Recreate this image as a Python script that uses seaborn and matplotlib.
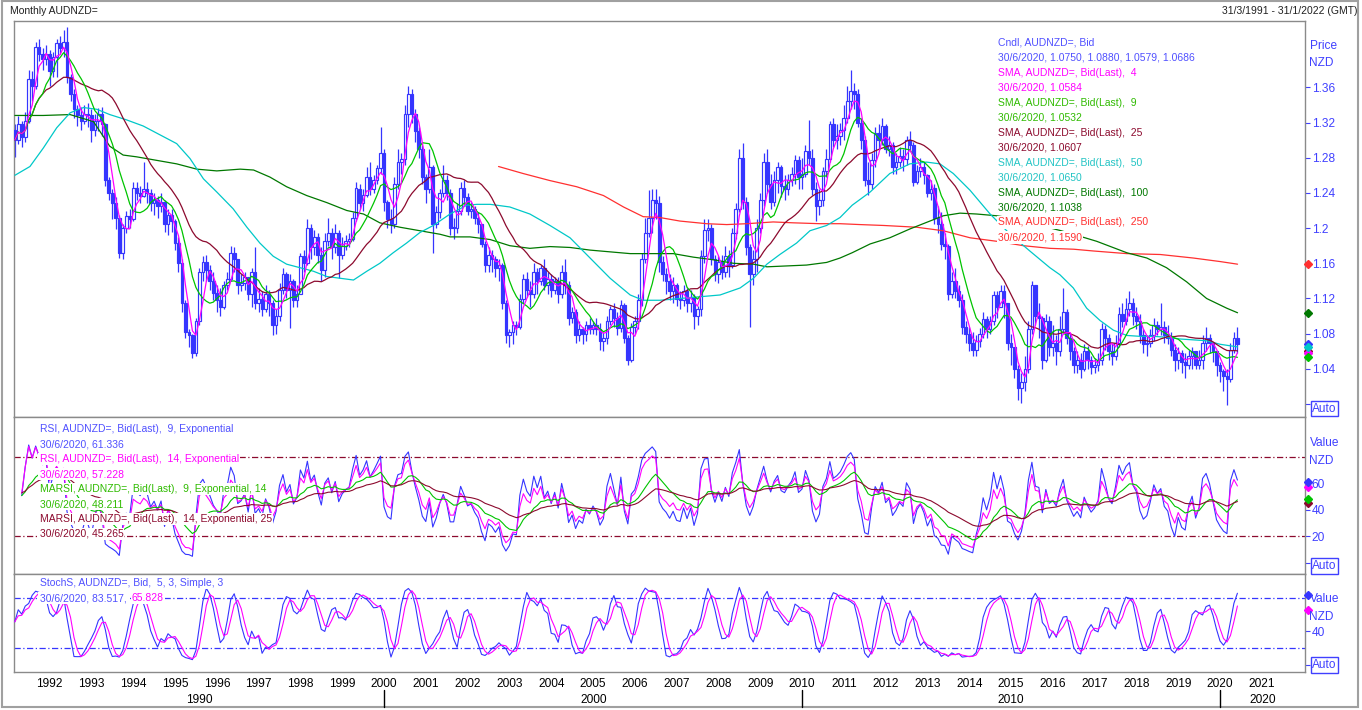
import pandas as pd
import matplotlib
matplotlib.use("Agg")
import matplotlib.pyplot as plt
from matplotlib.lines import Line2D
from matplotlib.patches import Rectangle
import seaborn as sns

sns.set_style("white")
plt.rcParams['font.family'] = ['Liberation Sans', 'DejaVu Sans']

W, H = 1362, 710

# ---------------- data (monthly, Mar 1991 - Jun 2020) ----------------
first_open = 1.312
closes = [
    1.300, 1.318, 1.304, 1.322, 1.370, 1.362, 1.406, 1.398, 1.392, 1.398,  # 1991 Mar-Dec
    1.378, 1.395, 1.410, 1.405, 1.412, 1.372, 1.352, 1.335, 1.328, 1.322, 1.330, 1.328,  # 1992
    1.312, 1.322, 1.330, 1.318, 1.255, 1.240, 1.228, 1.212, 1.172, 1.200, 1.214, 1.210,  # 1993
    1.246, 1.240, 1.236, 1.245, 1.240, 1.228, 1.232, 1.225, 1.230, 1.205, 1.215, 1.208,  # 1994
    1.183, 1.160, 1.115, 1.082, 1.078, 1.058, 1.095, 1.150, 1.162, 1.152, 1.140, 1.126,  # 1995
    1.118, 1.110, 1.135, 1.142, 1.172, 1.165, 1.135, 1.138, 1.145, 1.125, 1.150, 1.115,  # 1996
    1.120, 1.108, 1.125, 1.115, 1.090, 1.100, 1.130, 1.148, 1.130, 1.140, 1.118, 1.125,  # 1997
    1.168, 1.160, 1.200, 1.178, 1.190, 1.170, 1.152, 1.185, 1.195, 1.178, 1.195, 1.170,  # 1998
    1.180, 1.185, 1.188, 1.212, 1.245, 1.228, 1.238, 1.258, 1.245, 1.255, 1.268, 1.285,  # 1999
    1.230, 1.210, 1.205, 1.250, 1.275, 1.278, 1.330, 1.352, 1.330, 1.310, 1.290, 1.258,  # 2000
    1.245, 1.270, 1.205, 1.218, 1.240, 1.255, 1.240, 1.200, 1.200, 1.220, 1.246, 1.235,  # 2001
    1.220, 1.222, 1.212, 1.205, 1.182, 1.158, 1.170, 1.165, 1.155, 1.158, 1.115, 1.078,  # 2002
    1.082, 1.090, 1.088, 1.120, 1.142, 1.130, 1.125, 1.150, 1.140, 1.155, 1.135, 1.142,  # 2003
    1.130, 1.140, 1.125, 1.150, 1.135, 1.098, 1.105, 1.078, 1.085, 1.080, 1.090, 1.085,  # 2004
    1.090, 1.085, 1.072, 1.075, 1.095, 1.108, 1.098, 1.086, 1.113, 1.075, 1.050, 1.088,  # 2005
    1.095, 1.118, 1.165, 1.195, 1.212, 1.232, 1.228, 1.162, 1.148, 1.140, 1.128, 1.135,  # 2006
    1.120, 1.118, 1.128, 1.115, 1.122, 1.100, 1.108, 1.168, 1.198, 1.200, 1.165, 1.148,  # 2007
    1.162, 1.150, 1.168, 1.158, 1.195, 1.222, 1.280, 1.230, 1.178, 1.148, 1.165, 1.200,  # 2008
    1.232, 1.275, 1.250, 1.230, 1.255, 1.270, 1.248, 1.245, 1.255, 1.262, 1.277, 1.258,  # 2009
    1.262, 1.288, 1.280, 1.245, 1.225, 1.232, 1.265, 1.278, 1.318, 1.300, 1.305, 1.312,  # 2010
    1.325, 1.345, 1.356, 1.352, 1.320, 1.300, 1.255, 1.250, 1.277, 1.308, 1.300, 1.316,  # 2011
    1.290, 1.295, 1.270, 1.275, 1.282, 1.278, 1.300, 1.295, 1.252, 1.265, 1.270, 1.260,  # 2012
    1.240, 1.245, 1.212, 1.205, 1.182, 1.180, 1.125, 1.140, 1.128, 1.118, 1.088, 1.080,  # 2013
    1.070, 1.062, 1.072, 1.080, 1.097, 1.085, 1.095, 1.124, 1.110, 1.128, 1.115, 1.070,  # 2014
    1.065, 1.040, 1.018, 1.025, 1.040, 1.085, 1.135, 1.100, 1.098, 1.050, 1.095, 1.065,  # 2015
    1.070, 1.060, 1.085, 1.105, 1.075, 1.060, 1.045, 1.050, 1.040, 1.060, 1.050, 1.042,  # 2016
    1.045, 1.050, 1.085, 1.075, 1.060, 1.055, 1.070, 1.102, 1.095, 1.108, 1.115, 1.100,  # 2017
    1.095, 1.078, 1.068, 1.070, 1.078, 1.090, 1.085, 1.088, 1.078, 1.075, 1.062, 1.050,  # 2018
    1.058, 1.048, 1.045, 1.055, 1.060, 1.045, 1.050, 1.070, 1.075, 1.070, 1.060, 1.045,  # 2019
    1.038, 1.032, 1.029, 1.061, 1.075, 1.0686,  # 2020 Jan-Jun
]
highs = [
    1.318, 1.327, 1.322, 1.332, 1.380, 1.378, 1.412, 1.415, 1.405, 1.408,
    1.402, 1.400, 1.415, 1.418, 1.425, 1.428, 1.375, 1.358, 1.340, 1.338, 1.340, 1.342,
    1.335, 1.330, 1.336, 1.338, 1.320, 1.258, 1.245, 1.235, 1.215, 1.205, 1.220, 1.222,
    1.252, 1.252, 1.248, 1.275, 1.252, 1.245, 1.240, 1.236, 1.240, 1.232, 1.222, 1.222,
    1.210, 1.190, 1.165, 1.118, 1.085, 1.080, 1.098, 1.155, 1.168, 1.170, 1.158, 1.150,
    1.135, 1.132, 1.140, 1.150, 1.180, 1.178, 1.160, 1.148, 1.150, 1.142, 1.155, 1.178,
    1.132, 1.128, 1.135, 1.130, 1.118, 1.108, 1.138, 1.155, 1.150, 1.148, 1.142, 1.135,
    1.172, 1.175, 1.210, 1.205, 1.198, 1.195, 1.178, 1.195, 1.212, 1.200, 1.205, 1.198,
    1.190, 1.192, 1.195, 1.218, 1.252, 1.250, 1.245, 1.270, 1.275, 1.260, 1.272, 1.315,
    1.290, 1.232, 1.222, 1.258, 1.290, 1.285, 1.340, 1.362, 1.358, 1.335, 1.315, 1.295,
    1.262, 1.290, 1.272, 1.225, 1.245, 1.272, 1.260, 1.245, 1.212, 1.228, 1.252, 1.255,
    1.240, 1.230, 1.225, 1.218, 1.205, 1.185, 1.178, 1.175, 1.168, 1.165, 1.160, 1.118,
    1.085, 1.095, 1.095, 1.125, 1.148, 1.150, 1.140, 1.160, 1.155, 1.158, 1.165, 1.150,
    1.148, 1.145, 1.145, 1.158, 1.165, 1.140, 1.110, 1.108, 1.095, 1.088, 1.095, 1.098,
    1.095, 1.098, 1.092, 1.082, 1.100, 1.112, 1.115, 1.105, 1.118, 1.115, 1.078, 1.092,
    1.100, 1.125, 1.172, 1.212, 1.243, 1.245, 1.244, 1.236, 1.168, 1.155, 1.148, 1.145,
    1.138, 1.128, 1.135, 1.132, 1.130, 1.125, 1.112, 1.175, 1.210, 1.210, 1.205, 1.170,
    1.168, 1.170, 1.180, 1.175, 1.200, 1.228, 1.290, 1.297, 1.235, 1.182, 1.175, 1.210,
    1.240, 1.285, 1.290, 1.262, 1.265, 1.275, 1.272, 1.260, 1.262, 1.270, 1.283, 1.282,
    1.280, 1.295, 1.323, 1.290, 1.252, 1.245, 1.270, 1.290, 1.322, 1.325, 1.318, 1.320,
    1.340, 1.362, 1.380, 1.365, 1.358, 1.325, 1.305, 1.275, 1.285, 1.315, 1.318, 1.325,
    1.318, 1.305, 1.298, 1.285, 1.292, 1.290, 1.305, 1.310, 1.298, 1.272, 1.280, 1.275,
    1.262, 1.255, 1.250, 1.225, 1.218, 1.195, 1.182, 1.150, 1.155, 1.135, 1.125, 1.095,
    1.088, 1.082, 1.078, 1.086, 1.105, 1.100, 1.100, 1.128, 1.128, 1.135, 1.135, 1.102,
    1.080, 1.060, 1.045, 1.035, 1.055, 1.095, 1.140, 1.135, 1.115, 1.100, 1.102, 1.100,
    1.090, 1.078, 1.100, 1.132, 1.108, 1.080, 1.065, 1.060, 1.058, 1.068, 1.066, 1.055,
    1.052, 1.058, 1.092, 1.090, 1.080, 1.070, 1.078, 1.110, 1.115, 1.120, 1.128, 1.120,
    1.110, 1.102, 1.085, 1.078, 1.085, 1.098, 1.095, 1.115, 1.095, 1.090, 1.082, 1.068,
    1.065, 1.062, 1.058, 1.062, 1.065, 1.060, 1.062, 1.078, 1.088, 1.080, 1.070, 1.058,
    1.048, 1.040, 1.040, 1.070, 1.082, 1.088,
]
lows = [
    1.281, 1.296, 1.292, 1.298, 1.320, 1.345, 1.358, 1.390, 1.380, 1.385,
    1.362, 1.372, 1.372, 1.398, 1.395, 1.365, 1.345, 1.325, 1.316, 1.312, 1.318, 1.315,
    1.298, 1.305, 1.310, 1.305, 1.248, 1.232, 1.210, 1.199, 1.166, 1.165, 1.195, 1.200,
    1.208, 1.232, 1.228, 1.235, 1.228, 1.220, 1.215, 1.212, 1.218, 1.196, 1.192, 1.196,
    1.175, 1.150, 1.105, 1.075, 1.065, 1.052, 1.055, 1.090, 1.140, 1.140, 1.130, 1.118,
    1.105, 1.100, 1.108, 1.130, 1.140, 1.150, 1.125, 1.128, 1.130, 1.118, 1.110, 1.108,
    1.105, 1.100, 1.105, 1.100, 1.078, 1.080, 1.095, 1.125, 1.120, 1.086, 1.110, 1.110,
    1.125, 1.150, 1.158, 1.165, 1.170, 1.160, 1.140, 1.145, 1.180, 1.165, 1.172, 1.143,
    1.165, 1.175, 1.178, 1.185, 1.208, 1.222, 1.220, 1.235, 1.238, 1.240, 1.250, 1.262,
    1.220, 1.200, 1.195, 1.200, 1.245, 1.262, 1.272, 1.315, 1.320, 1.298, 1.280, 1.250,
    1.228, 1.240, 1.172, 1.200, 1.212, 1.235, 1.232, 1.192, 1.188, 1.195, 1.215, 1.225,
    1.215, 1.212, 1.205, 1.195, 1.178, 1.150, 1.150, 1.150, 1.145, 1.140, 1.108, 1.070,
    1.065, 1.068, 1.078, 1.085, 1.115, 1.122, 1.110, 1.120, 1.125, 1.135, 1.130, 1.125,
    1.122, 1.125, 1.115, 1.120, 1.125, 1.090, 1.092, 1.070, 1.072, 1.068, 1.072, 1.080,
    1.080, 1.078, 1.062, 1.060, 1.068, 1.090, 1.088, 1.078, 1.082, 1.070, 1.044, 1.048,
    1.080, 1.085, 1.112, 1.160, 1.190, 1.195, 1.210, 1.150, 1.140, 1.125, 1.118, 1.115,
    1.112, 1.108, 1.112, 1.105, 1.105, 1.085, 1.090, 1.100, 1.160, 1.185, 1.158, 1.140,
    1.138, 1.142, 1.145, 1.145, 1.155, 1.188, 1.218, 1.222, 1.170, 1.088, 1.135, 1.150,
    1.195, 1.225, 1.240, 1.222, 1.225, 1.240, 1.235, 1.232, 1.238, 1.248, 1.250, 1.245,
    1.245, 1.258, 1.272, 1.238, 1.208, 1.215, 1.225, 1.258, 1.275, 1.292, 1.290, 1.295,
    1.300, 1.320, 1.335, 1.335, 1.315, 1.290, 1.248, 1.238, 1.245, 1.270, 1.290, 1.295,
    1.285, 1.282, 1.262, 1.262, 1.270, 1.265, 1.272, 1.288, 1.248, 1.250, 1.258, 1.250,
    1.235, 1.232, 1.205, 1.195, 1.175, 1.165, 1.118, 1.120, 1.120, 1.110, 1.080, 1.070,
    1.060, 1.055, 1.055, 1.065, 1.075, 1.075, 1.080, 1.090, 1.098, 1.110, 1.098, 1.062,
    1.045, 1.030, 1.005, 1.001, 1.015, 1.035, 1.080, 1.090, 1.075, 1.040, 1.048, 1.055,
    1.055, 1.045, 1.055, 1.080, 1.068, 1.050, 1.035, 1.035, 1.030, 1.038, 1.040, 1.034,
    1.035, 1.038, 1.045, 1.062, 1.050, 1.045, 1.050, 1.065, 1.088, 1.090, 1.100, 1.090,
    1.085, 1.070, 1.058, 1.055, 1.065, 1.072, 1.078, 1.078, 1.070, 1.068, 1.055, 1.038,
    1.040, 1.035, 1.030, 1.040, 1.040, 1.040, 1.040, 1.040, 1.060, 1.058, 1.048, 1.032,
    1.025, 1.015, 0.999, 1.025, 1.058, 1.0579,
]

# long moving averages (their history starts before 1991)
sma50_t = [1991.17, 1991.53, 1991.85, 1992.17, 1992.49, 1992.81, 1993.13, 1993.44, 1993.84,
           1994.24, 1994.64, 1995.04, 1995.36, 1995.68, 1996.0, 1996.39, 1996.72, 1997.03,
           1997.35, 1997.67, 1997.99, 1998.31, 1998.63, 1998.95, 1999.27, 1999.59, 1999.9,
           2000.22, 2000.54, 2000.86, 2001.18, 2001.58, 2001.98, 2002.22, 2002.54, 2003.01,
           2003.49, 2003.97, 2004.45, 2004.93, 2005.41, 2005.89, 2006.2, 2006.6, 2007.08,
           2007.56, 2008.04, 2008.52, 2008.84, 2009.16, 2009.47, 2009.87, 2010.19, 2010.59,
           2010.91, 2011.2, 2011.63, 2012.1, 2012.58, 2012.98, 2013.3, 2013.62, 2014.02,
           2014.5, 2014.98, 2015.45, 2015.93, 2016.17, 2016.49, 2016.81, 2017.13, 2017.45,
           2017.77, 2018.09, 2018.41, 2018.72, 2019.04, 2019.36, 2019.68, 2020.0, 2020.42]
sma50_v = [1.260, 1.270, 1.291, 1.314, 1.331, 1.337, 1.335, 1.329, 1.323,
           1.316, 1.306, 1.296, 1.279, 1.256, 1.241, 1.222, 1.201, 1.183,
           1.168, 1.159, 1.155, 1.151, 1.145, 1.143, 1.141, 1.151, 1.160,
           1.172, 1.183, 1.195, 1.203, 1.216, 1.226, 1.227, 1.227, 1.224,
           1.216, 1.203, 1.189, 1.166, 1.143, 1.124, 1.118, 1.118, 1.120,
           1.122, 1.124, 1.132, 1.143, 1.159, 1.170, 1.183, 1.197, 1.203,
           1.212, 1.226, 1.241, 1.262, 1.273, 1.275, 1.273, 1.262, 1.243,
           1.216, 1.193, 1.174, 1.155, 1.147, 1.132, 1.109, 1.095, 1.084,
           1.078, 1.077, 1.077, 1.076, 1.074, 1.073, 1.072, 1.068, 1.065]
sma100_t = [1991.17, 1991.85, 1992.49, 1993.05, 1993.44, 1993.76, 1994.08, 1994.56, 1995.04,
            1995.52, 1996.0, 1996.56, 1996.88, 1997.27, 1997.67, 1998.15, 1998.63, 1999.11,
            1999.51, 1999.9, 2000.38, 2000.86, 2001.34, 2001.58, 2002.06, 2002.54, 2003.01,
            2003.49, 2003.97, 2004.45, 2004.93, 2005.41, 2005.89, 2006.5, 2006.92, 2007.4,
            2007.88, 2008.36, 2008.84, 2009.16, 2009.63, 2010.11, 2010.59, 2010.91, 2011.2,
            2011.63, 2012.1, 2012.58, 2013.06, 2013.38, 2013.78, 2014.18, 2014.66, 2015.2,
            2015.7, 2016.2, 2016.7, 2017.05, 2017.77, 2018.25, 2018.72, 2019.2, 2019.68,
            2020.16, 2020.42]
sma100_v = [1.328, 1.328, 1.329, 1.321, 1.293, 1.283, 1.281, 1.277, 1.273,
            1.267, 1.265, 1.267, 1.266, 1.258, 1.247, 1.237, 1.229, 1.220,
            1.216, 1.206, 1.201, 1.197, 1.193, 1.190, 1.190, 1.187, 1.180,
            1.177, 1.179, 1.178, 1.175, 1.173, 1.171, 1.171, 1.171, 1.167,
            1.164, 1.160, 1.159, 1.156, 1.157, 1.158, 1.161, 1.166, 1.172,
            1.182, 1.189, 1.199, 1.208, 1.214, 1.217, 1.216, 1.214, 1.210,
            1.203, 1.197, 1.190, 1.185, 1.172, 1.166, 1.155, 1.139, 1.120,
            1.109, 1.1038]
sma250_t = [2002.74, 2003.33, 2003.97, 2004.61, 2005.25, 2005.73, 2006.2, 2006.6, 2007.08,
            2007.72, 2008.2, 2008.68, 2009.31, 2009.79, 2010.43, 2010.91, 2011.39, 2011.95,
            2012.74, 2013.38, 2014.02, 2014.66, 2015.3, 2015.93, 2016.5, 2016.97, 2017.77,
            2018.57, 2019.36, 2020.0, 2020.42]
sma250_v = [1.270, 1.262, 1.254, 1.247, 1.237, 1.224, 1.213, 1.212, 1.208,
            1.205, 1.204, 1.205, 1.207, 1.206, 1.205, 1.205, 1.204, 1.203,
            1.201, 1.197, 1.189, 1.185, 1.180, 1.177, 1.176, 1.174, 1.171,
            1.170, 1.166, 1.162, 1.159]

price_ticks = [1.00, 1.04, 1.08, 1.12, 1.16, 1.2, 1.24, 1.28, 1.32, 1.36]
price_labels = ['', '1.04', '1.08', '1.12', '1.16', '1.2', '1.24', '1.28', '1.32', '1.36']
years = list(range(1992, 2022))
decades = ['1990', '2000', '2010', '2020']

# ---------------- derived series ----------------
dates = pd.date_range("1991-03-01", periods=len(closes), freq="MS")
df = pd.DataFrame({"close": closes, "high": highs, "low": lows})
df["t"] = dates.year + (dates.month - 1) / 12
df["open"] = df["close"].shift(1).fillna(first_open)
df["high"] = df[["high", "open", "close"]].max(axis=1)
df["low"] = df[["low", "open", "close"]].min(axis=1)

for n in (4, 9, 25):
    df[f"sma{n}"] = df["close"].rolling(n, min_periods=1).mean()


def rsi(close, n):
    # exponential RSI: smoothed gains / losses with an n-period EMA
    d = close.diff().fillna(0)
    g = d.clip(lower=0).ewm(span=n, adjust=False).mean()
    l = (-d).clip(lower=0).ewm(span=n, adjust=False).mean()
    return 100 * g / (g + l)


df["rsi9"] = rsi(df["close"], 9)
df["rsi14"] = rsi(df["close"], 14)
df.loc[:1, ["rsi9", "rsi14"]] = None
df["marsi9"] = df["rsi9"].ewm(span=14, adjust=False).mean()
df["marsi14"] = df["rsi14"].ewm(span=25, adjust=False).mean()

ll = df["low"].rolling(5, min_periods=1).min()
hh = df["high"].rolling(5, min_periods=1).max()
fast_k = 100 * (df["close"] - ll) / (hh - ll)
df["stoch_k"] = fast_k.rolling(3, min_periods=1).mean()
df["stoch_d"] = df["stoch_k"].rolling(3, min_periods=1).mean()

# ---------------- colours ----------------
BLUE = '#3535ff'
CNDL_TXT = '#5050ff'
MAG = '#ff00ff'
GRN = '#00c400'
GRN_TXT = '#2fbb00'
MAROON = '#8c0a2e'
CYAN = '#00c8c8'
CYAN_TXT = '#22c4c4'
DKGRN = '#007800'
RED = '#ff3030'
TICKBLUE = '#4040ff'
FRAME = '#8a8a8a'

# ---------------- figure ----------------
fig = plt.figure(figsize=(W / 100, H / 100), dpi=100)
fig.patch.set_facecolor('white')


def box(x0, y0, x1, y1):
    return [x0 / W, 1 - y1 / H, (x1 - x0) / W, (y1 - y0) / H]


X_LEFT, X_RIGHT = 14, 1305
X0 = 2000 + (X_LEFT - 384) / 41.8
X1 = 2000 + (X_RIGHT - 384) / 41.8

ax_p = fig.add_axes(box(X_LEFT, 21, X_RIGHT, 417))
ax_r = fig.add_axes(box(X_LEFT, 417, X_RIGHT, 574))
ax_s = fig.add_axes(box(X_LEFT, 574, X_RIGHT, 672))

# candles
up = df["close"] >= df["open"]
ax_p.vlines(df["t"], df["low"], df["high"], color=BLUE, lw=0.9, zorder=2)
bw = 0.064
ax_p.bar(df["t"][up], (df["close"] - df["open"])[up].clip(lower=0.0008),
         bottom=df["open"][up], width=bw, facecolor='white', edgecolor=BLUE,
         linewidth=0.85, zorder=3)
ax_p.bar(df["t"][~up], (df["open"] - df["close"])[~up].clip(lower=0.0008),
         bottom=df["close"][~up], width=bw, facecolor=BLUE, edgecolor=BLUE,
         linewidth=0.85, zorder=3)

# moving averages
sns.lineplot(x=sma250_t, y=sma250_v, ax=ax_p, color=RED, lw=0.9, zorder=4)
sns.lineplot(x=sma100_t, y=sma100_v, ax=ax_p, color=DKGRN, lw=0.9, zorder=4)
sns.lineplot(x=sma50_t, y=sma50_v, ax=ax_p, color=CYAN, lw=0.9, zorder=4)
sns.lineplot(data=df, x="t", y="sma25", ax=ax_p, color=MAROON, lw=0.9, zorder=4)
sns.lineplot(data=df, x="t", y="sma9", ax=ax_p, color=GRN, lw=0.9, zorder=4)
sns.lineplot(data=df, x="t", y="sma4", ax=ax_p, color=MAG, lw=0.9, zorder=4)

# RSI panel
dashdot = (0, (5, 2, 1, 2))
ax_r.axhline(80, color=MAROON, lw=0.9, ls=dashdot, zorder=1)
ax_r.axhline(20, color=MAROON, lw=0.9, ls=dashdot, zorder=1)
sns.lineplot(data=df, x="t", y="rsi9", ax=ax_r, color=BLUE, lw=0.8, zorder=3)
sns.lineplot(data=df, x="t", y="rsi14", ax=ax_r, color=MAG, lw=0.8, zorder=3)
sns.lineplot(data=df, x="t", y="marsi9", ax=ax_r, color=GRN, lw=0.8, zorder=3)
sns.lineplot(data=df, x="t", y="marsi14", ax=ax_r, color=MAROON, lw=0.8, zorder=3)

# Stochastic panel
ax_s.axhline(80, color=BLUE, lw=0.9, ls=dashdot, zorder=1)
ax_s.axhline(20, color=BLUE, lw=0.9, ls=dashdot, zorder=1)
sns.lineplot(data=df, x="t", y="stoch_k", ax=ax_s, color=BLUE, lw=0.8, zorder=3)
sns.lineplot(data=df, x="t", y="stoch_d", ax=ax_s, color=MAG, lw=0.8, zorder=3)

# axes styling
ax_p.set_ylim(1.36 - (417 - 87.3) / 880, 1.36 + (87.3 - 21) / 880)
ax_r.set_ylim(-8.4, 110)
ax_s.set_ylim(-8.8, 108.8)
for ax in (ax_p, ax_r, ax_s):
    ax.set_xlim(X0, X1)
    ax.set_xlabel('')
    ax.set_ylabel('')
    ax.set_facecolor('white')
    ax.yaxis.tick_right()
    ax.tick_params(axis='y', direction='out', length=3.6, width=0.8,
                   colors=TICKBLUE, labelsize=8.6, pad=1.2)
    for sp in ax.spines.values():
        sp.set_color(FRAME)
        sp.set_linewidth(1)

ax_p.set_yticks(price_ticks)
ax_p.set_yticklabels(price_labels)
ax_r.set_yticks([0, 20, 40, 60])
ax_r.set_yticklabels(['', '20', '40', '60'])
ax_s.set_yticks([0, 40])
ax_s.set_yticklabels(['', '40'])

for ax in (ax_p, ax_r):
    ax.set_xticks([])
ax_s.set_xticks(years)
ax_s.set_xticklabels([str(y) for y in years])
ax_s.tick_params(axis='x', direction='out', length=2.6, width=0.8, colors='black',
                 labelsize=8.6, pad=2)

# last-value diamonds on the right edge
xd = X1 + 0.07
for ax, vals in (
    (ax_p, [(1.1590, RED), (1.1038, DKGRN), (1.0607, MAROON), (1.0584, MAG),
            (1.0532, GRN), (1.0686, BLUE), (1.0650, CYAN)]),
    (ax_r, [(45.265, MAROON), (48.211, GRN), (57.228, MAG), (61.336, BLUE)]),
    (ax_s, [(65.828, MAG), (83.517, BLUE)]),
):
    for v, c in vals:
        ax.plot([xd], [v], marker='D', ms=4.5, color=c, clip_on=False, zorder=6)


# texts (pixel positions)
def ftext(x, y, s, color, size=7.5, ha='left', bg=True):
    kw = dict(facecolor='white', edgecolor='none', pad=0.8) if bg else None
    fig.text(x / W, 1 - y / H, s, color=color, fontsize=size, ha=ha, va='center', bbox=kw)


ftext(10, 11, 'Monthly AUDNZD=', '#202020', bg=False)
ftext(1357, 11, '31/3/1991 - 31/1/2022 (GMT)', '#202020', ha='right', bg=False)

legend_rows = [
    ('Cndl, AUDNZD=, Bid', CNDL_TXT),
    ('30/6/2020, 1.0750, 1.0880, 1.0579, 1.0686', CNDL_TXT),
    ('SMA, AUDNZD=, Bid(Last),  4', MAG),
    ('30/6/2020, 1.0584', MAG),
    ('SMA, AUDNZD=, Bid(Last),  9', GRN_TXT),
    ('30/6/2020, 1.0532', GRN_TXT),
    ('SMA, AUDNZD=, Bid(Last),  25', MAROON),
    ('30/6/2020, 1.0607', MAROON),
    ('SMA, AUDNZD=, Bid(Last),  50', CYAN_TXT),
    ('30/6/2020, 1.0650', CYAN_TXT),
    ('SMA, AUDNZD=, Bid(Last),  100', DKGRN),
    ('30/6/2020, 1.1038', DKGRN),
    ('SMA, AUDNZD=, Bid(Last),  250', RED),
    ('30/6/2020, 1.1590', RED),
]
for k, (s, c) in enumerate(legend_rows):
    ftext(998, 42.7 + 14.98 * k, s, c)

rsi_rows = [
    ('RSI, AUDNZD=, Bid(Last),  9, Exponential', CNDL_TXT),
    ('30/6/2020, 61.336', CNDL_TXT),
    ('RSI, AUDNZD=, Bid(Last),  14, Exponential', MAG),
    ('30/6/2020, 57.228', MAG),
    ('MARSI, AUDNZD=, Bid(Last),  9, Exponential, 14', GRN_TXT),
    ('30/6/2020, 48.211', GRN_TXT),
    ('MARSI, AUDNZD=, Bid(Last),  14, Exponential, 25', MAROON),
    ('30/6/2020, 45.265', MAROON),
]
for k, (s, c) in enumerate(rsi_rows):
    ftext(39.5, 429.3 + 14.95 * k, s, c)

ftext(39.5, 583.3, 'StochS, AUDNZD=, Bid,  5, 3, Simple, 3', CNDL_TXT)
ftext(39.5, 598.3, '30/6/2020, 83.517, ', CNDL_TXT)
ftext(131.7, 598.3, '65.828', MAG)

# right axis captions and Auto buttons
ftext(1310, 45.7, 'Price', TICKBLUE, size=8.6, bg=False)
ftext(1309, 62.7, 'NZD', TICKBLUE, size=8.6, bg=False)
ftext(1310, 443, 'Value', TICKBLUE, size=8.6, bg=False)
ftext(1309, 461, 'NZD', TICKBLUE, size=8.6, bg=False)
ftext(1310, 599.5, 'Value', TICKBLUE, size=8.6, bg=False)
ftext(1309, 617, 'NZD', TICKBLUE, size=8.6, bg=False)
for yb in (408.5, 566, 665):
    fig.text(1324.5 / W, 1 - yb / H, 'Auto', color=TICKBLUE, fontsize=8.6,
             ha='center', va='center',
             bbox=dict(facecolor='white', edgecolor=TICKBLUE, linewidth=1, pad=1.2))

# decade labels and separators
for lab, xc in zip(decades, [199, 593.5, 1011, 1262.5]):
    ftext(xc, 700, lab, 'black', size=8.6, ha='center', bg=False)
for xs in (384, 802, 1220):
    fig.add_artist(Line2D([xs / W, xs / W], [1 - 690 / H, 1 - 707 / H], color='black', lw=1))

# outer window frame
fig.add_artist(Rectangle((1.5 / W, 1 - 707 / H), (1358 - 1.5) / W, (707 - 0.8) / H,
                         transform=fig.transFigure, fill=False, edgecolor='#a0a0a0', lw=1.5))

fig.savefig('out.png', dpi=100, facecolor='white')
